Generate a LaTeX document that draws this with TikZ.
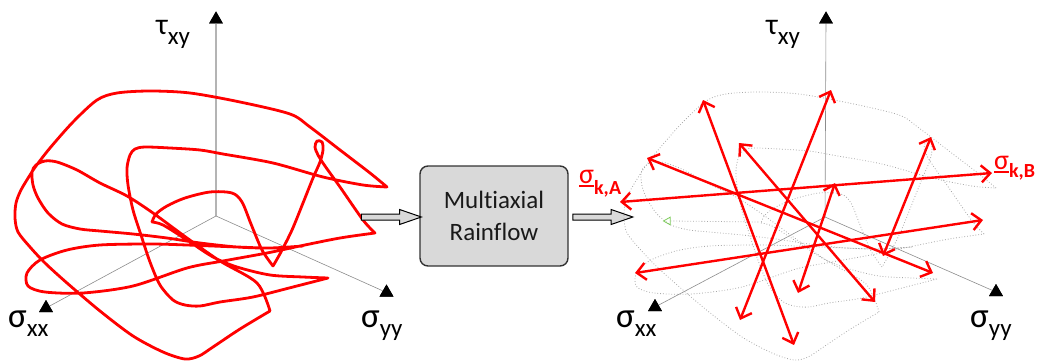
\documentclass[tikz,border=0pt]{standalone}
\usepackage{fontspec}
\setmainfont{Carlito}[Ligatures=NoCommon]
\usetikzlibrary{arrows.meta,shapes.geometric,shapes.arrows}
\definecolor{boxgray}{HTML}{D9D9D9}
\definecolor{axgray}{HTML}{8C8C8C}
\definecolor{tagray}{HTML}{B4B4B4}
\definecolor{dotgray}{HTML}{A8A8A8}
\definecolor{lgreen}{HTML}{7CCB5A}
\newcommand{\uls}[1]{\setbox0\hbox{#1}\rlap{\rule[-3.5pt]{\wd0}{1.8pt}}\box0}
\newcommand{\axlabel}[3]{{\fontsize{#1}{#1}\selectfont #2}\raisebox{-9.5pt}{\fontsize{25}{25}\selectfont #3}}
\newcommand{\stresscurve}[1]{%
\draw[#1]
 plot[smooth] coordinates {(387,187) (370,173) (340,150) (310,127) (290,114) (240,102) (190,93) (150,91) (117,93) (97,100) (73,122) (50,148) (36,166) (30,175) (21,190) (16,203) (15,218) (18,232) (30,247) (45,263) (67,283) (100,311) (133,336) (163,352) (185,359) (199,356) (213,347) (240,329) (270,311)}
 plot[smooth] coordinates {(270,311) (257,283) (220,261) (187,238) (153,213) (127,196) (100,183) (77,170) (57,162) (45,161) (36,165) (32,172) (33,185) (38,198) (48,213) (62,224) (80,229) (100,231) (133,234) (167,238) (200,243) (237,247) (270,248) (303,246)}
 plot[smooth] coordinates {(303,246) (270,248) (237,247) (187,245) (150,244) (100,245) (67,250) (40,260) (27,273) (28,286) (45,292) (83,293) (133,286) (187,268) (223,261) (267,253) (300,246) (340,238) (375,233)}
 plot[smooth] coordinates {(375,233) (363,220) (340,187) (325,166) (318,155) (315,147) (317,141) (322,142) (323,150) (320,162) (313,178) (303,203) (292,230) (281,252) (273,266)}
 plot[smooth] coordinates {(273,266) (262,250) (251,224) (242,202) (232,193) (210,192) (185,198) (167,206) (156,214) (152,222)}
 plot[smooth] coordinates {(152,222) (163,225) (187,240) (213,257) (237,267) (270,275) (303,277) (328,278)}
 plot[smooth] coordinates {(328,278) (293,287) (253,297) (220,302) (200,306) (185,305) (173,300) (160,285) (150,262) (141,235) (133,210) (128,185) (127,168) (130,155) (135,149) (145,147) (170,148) (200,150) (223,154) (273,163) (323,177) (363,185) (387,187)};}
\tikzset{
  tri/.style={regular polygon, regular polygon sides=3, fill=black, inner sep=0pt, minimum size=16pt},
  saxis/.style={draw=axgray, line width=0.6pt},
  taxis/.style={draw=tagray, line width=1.2pt},
  curve/.style={draw=red, line width=2.8pt, line join=round, line cap=round},
  ghost/.style={draw=dotgray, line width=0.8pt, dotted},
  rarrow/.style={draw=red, line width=2.4pt, {Straight Barb[length=9pt,width=17pt]}-{Straight Barb[length=9pt,width=17pt]}},
  hollow/.style={single arrow, draw=black, fill=boxgray, line width=1pt, minimum height=60pt, minimum width=14pt, inner sep=2.5pt, single arrow head extend=4.5pt, single arrow tip angle=38},
  procbox/.style={draw=black!80, fill=boxgray, rounded corners=8pt, line width=1.4pt, minimum width=148pt, minimum height=100pt, align=center, text=black!90, font=\fontsize{25}{32}\selectfont},
  redlab/.style={text=red, anchor=base west, inner sep=0pt}
}
\begin{document}
\begin{tikzpicture}[x=1pt,y=-1pt]
\useasboundingbox (0,0) rectangle (1043,361);
% ---------- left axes ----------
\coordinate (O1) at (216,216);
\node[tri] (T1) at (216,19.5) {};
\node[tri] (X1) at (46,308) {};
\node[tri] (Y1) at (386.5,292.5) {};
\draw[taxis] (O1) -- (T1.center);
\draw[saxis] (O1) -- (X1.center);
\draw[saxis] (O1) -- (Y1.center);
\node[tri] at (T1) {};
\node[tri] at (X1) {};
\node[tri] at (Y1) {};
\node[anchor=base west, inner sep=0pt] (tl1) at (156,35) {\axlabel{30}{τ}{xy}};
\node[anchor=base west, inner sep=0pt] (sx1) at (8,327) {\axlabel{35}{σ}{xx}};
\node[anchor=base west, inner sep=0pt] (sy1) at (361,327) {\axlabel{35}{σ}{yy}};
% ---------- left load path ----------
\stresscurve{curve}
% ---------- process box ----------
\node[procbox] (box) at (494,216) {Multiaxial\\Rainflow};
\node[hollow] (inarrow) at (387,217) {};
\node[hollow] (outarrow) at (598.5,217) {};
% ---------- right axes ----------
\coordinate (O2) at (825,217);
\node[tri] (T2) at (826,19.5) {};
\node[tri] (X2) at (655,307) {};
\node[tri] (Y2) at (996,292) {};
\draw[saxis] (O2) -- (T2.center);
\draw[saxis] (O2) -- (X2.center);
\draw[saxis] (O2) -- (Y2.center);
\node[tri] at (T2) {};
\node[tri] at (X2) {};
\node[tri] at (Y2) {};
\node[anchor=base west, inner sep=0pt] (tl2) at (766,35) {\axlabel{30}{τ}{xy}};
\node[anchor=base west, inner sep=0pt] (sx2) at (616,327) {\axlabel{35}{σ}{xx}};
\node[anchor=base west, inner sep=0pt] (sy2) at (970,327) {\axlabel{35}{σ}{yy}};
% ---------- faint trace of the load path ----------
\begin{scope}[shift={(609,1)}]
\stresscurve{ghost}
\end{scope}
\node[regular polygon, regular polygon sides=3, shape border rotate=90, draw=lgreen, line width=0.8pt, inner sep=0pt, minimum size=9pt] (grn) at (668,221) {};
\coordinate (gend) at (760,222);
\draw[ghost] (grn.east) -- (gend);
% ---------- rainflow cycles ----------
\coordinate (a1) at (620,202); \coordinate (a2) at (992,173);
\coordinate (b1) at (647,158); \coordinate (b2) at (933,273);
\coordinate (c1) at (703,100); \coordinate (c2) at (794,345);
\coordinate (d1) at (739,143); \coordinate (d2) at (875,302);
\coordinate (e1) at (831,90);  \coordinate (e2) at (740,320);
\coordinate (f1) at (835,183); \coordinate (f2) at (798,293);
\coordinate (g1) at (931,137); \coordinate (g2) at (883,256);
\coordinate (h1) at (635,273); \coordinate (h2) at (983,220);
\draw[rarrow] (a1) -- (a2);
\draw[rarrow] (b1) -- (b2);
\draw[rarrow] (c1) -- (c2);
\draw[rarrow] (d1) -- (d2);
\draw[rarrow] (e1) -- (e2);
\draw[rarrow] (f1) -- (f2);
\draw[rarrow] (g1) -- (g2);
\draw[rarrow] (h1) -- (h2);
\node[redlab] (skA) at (579,183) {{\fontsize{28}{28}\selectfont\uls{σ}}\raisebox{-11pt}{\fontsize{20}{20}\selectfont\bfseries k,A}};
\node[redlab] (skB) at (994,169) {{\fontsize{28}{28}\selectfont\uls{σ}}\raisebox{-8pt}{\fontsize{20}{20}\selectfont\bfseries k,B}};
\end{tikzpicture}
\end{document}
